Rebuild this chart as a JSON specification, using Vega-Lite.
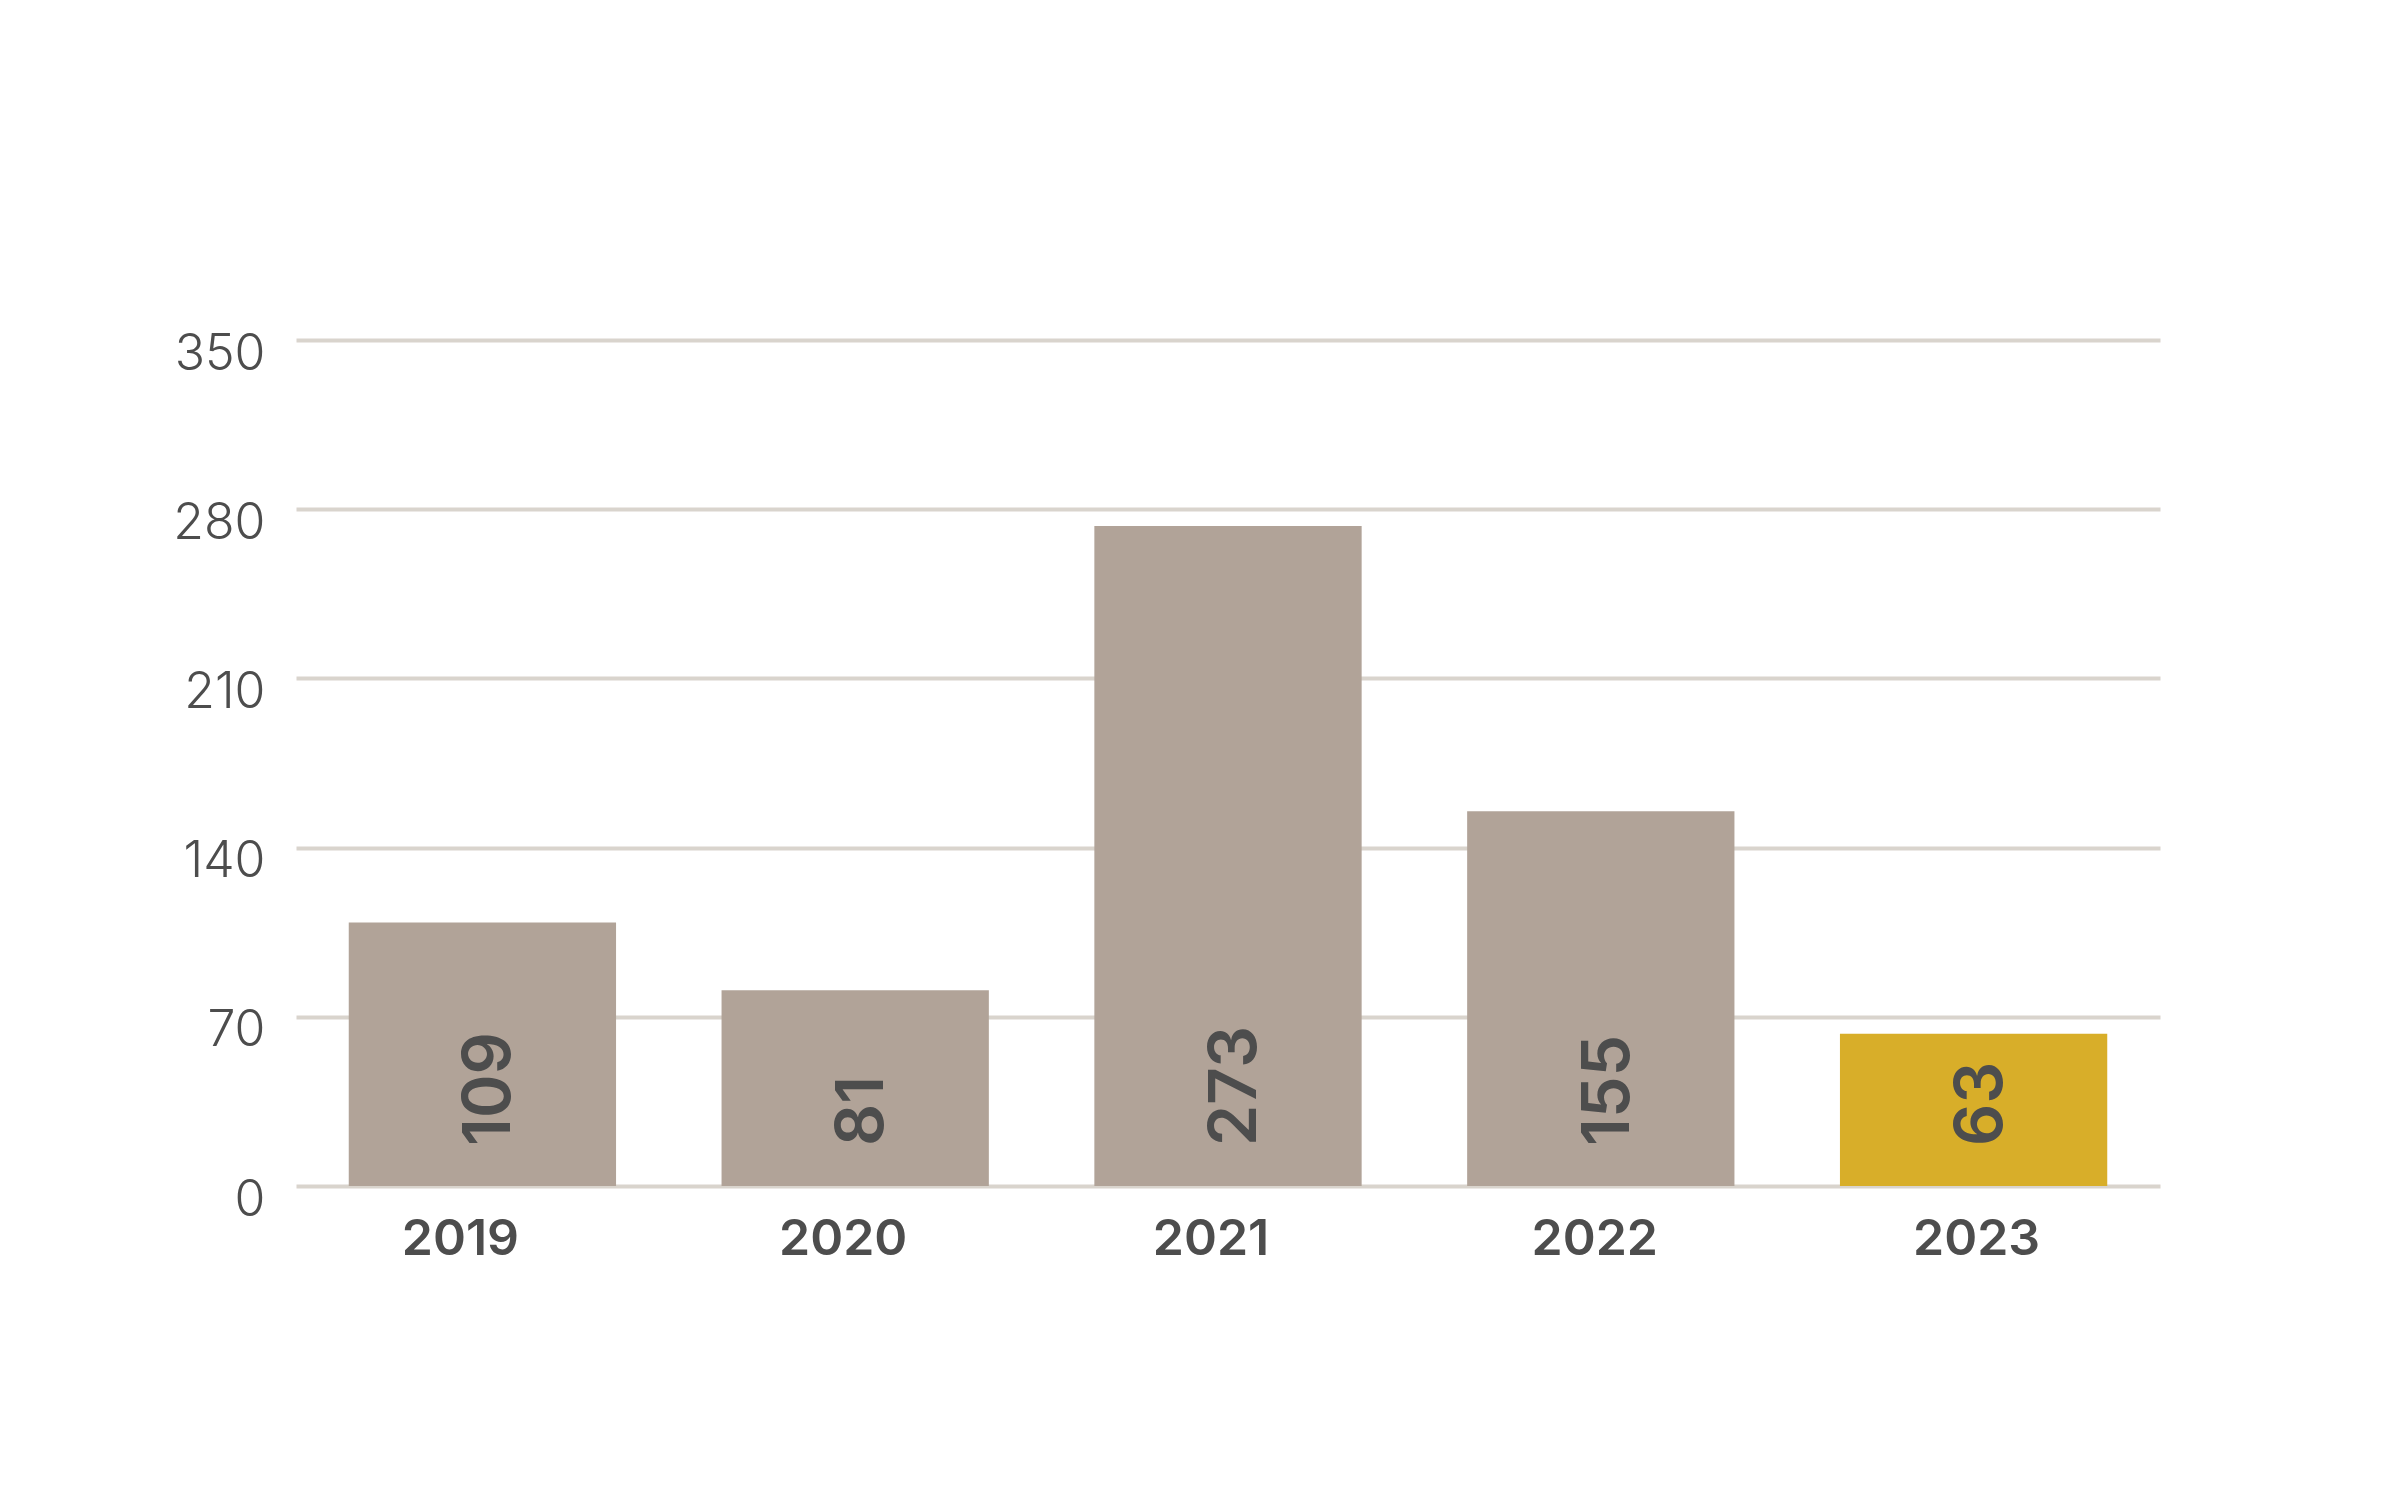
{
  "$schema": "https://vega.github.io/schema/vega-lite/v6.json",
  "autosize": {"type": "none"},
  "padding": {"left": 296, "top": 340, "right": 240, "bottom": 314},
  "width": 1864,
  "height": 846,
  "background": "#ffffff",
  "data": {
    "values": [
      {"year": "2019", "count": 109},
      {"year": "2020", "count": 81},
      {"year": "2021", "count": 273},
      {"year": "2022", "count": 155},
      {"year": "2023", "count": 63}
    ]
  },
  "config": {
    "view": {"stroke": null},
    "font": "Inter"
  },
  "encoding": {
    "x": {
      "field": "year",
      "type": "nominal",
      "sort": null,
      "scale": {"paddingInner": 0.283, "paddingOuter": 0.1415},
      "axis": {
        "title": null,
        "domain": false,
        "ticks": false,
        "grid": false,
        "labelAngle": 0,
        "labelFont": "Inter",
        "labelFontSize": 50,
        "labelFontWeight": 600,
        "labelColor": "#4d4d4d",
        "labelPadding": 28,
        "labelOffset": {
          "condition": [
            {"test": "datum.value == '2019'", "value": -22},
            {"test": "datum.value == '2020'", "value": -12},
            {"test": "datum.value == '2021'", "value": -17},
            {"test": "datum.value == '2022'", "value": -6}
          ],
          "value": 3
        }
      }
    }
  },
  "layer": [
    {
      "mark": {"type": "bar"},
      "encoding": {
        "y": {
          "field": "count",
          "type": "quantitative",
          "scale": {"domain": [0, 350], "nice": false},
          "axis": {
            "title": null,
            "domain": false,
            "ticks": false,
            "values": [0, 70, 140, 210, 280, 350],
            "grid": true,
            "gridColor": "#d9d4cd",
            "gridWidth": 4,
            "labelFont": "Inter",
            "labelFontSize": 50,
            "labelFontWeight": 300,
            "labelColor": "#4d4d4d",
            "labelPadding": 31,
            "labelOffset": 14
          }
        },
        "color": {
          "field": "year",
          "type": "nominal",
          "scale": {
            "domain": ["2019", "2020", "2021", "2022", "2023"],
            "range": ["#b1a398", "#b1a398", "#b1a398", "#b1a398", "#d8ae29"]
          },
          "legend": null
        }
      }
    },
    {
      "mark": {
        "type": "text",
        "angle": 270,
        "align": "left",
        "baseline": "middle",
        "dx": 40,
        "dy": 8,
        "font": "Inter",
        "fontSize": 66,
        "fontWeight": 600,
        "color": "#4d4d4d"
      },
      "encoding": {
        "y": {"datum": 0, "type": "quantitative"},
        "text": {"field": "count", "type": "quantitative"}
      }
    }
  ]
}
